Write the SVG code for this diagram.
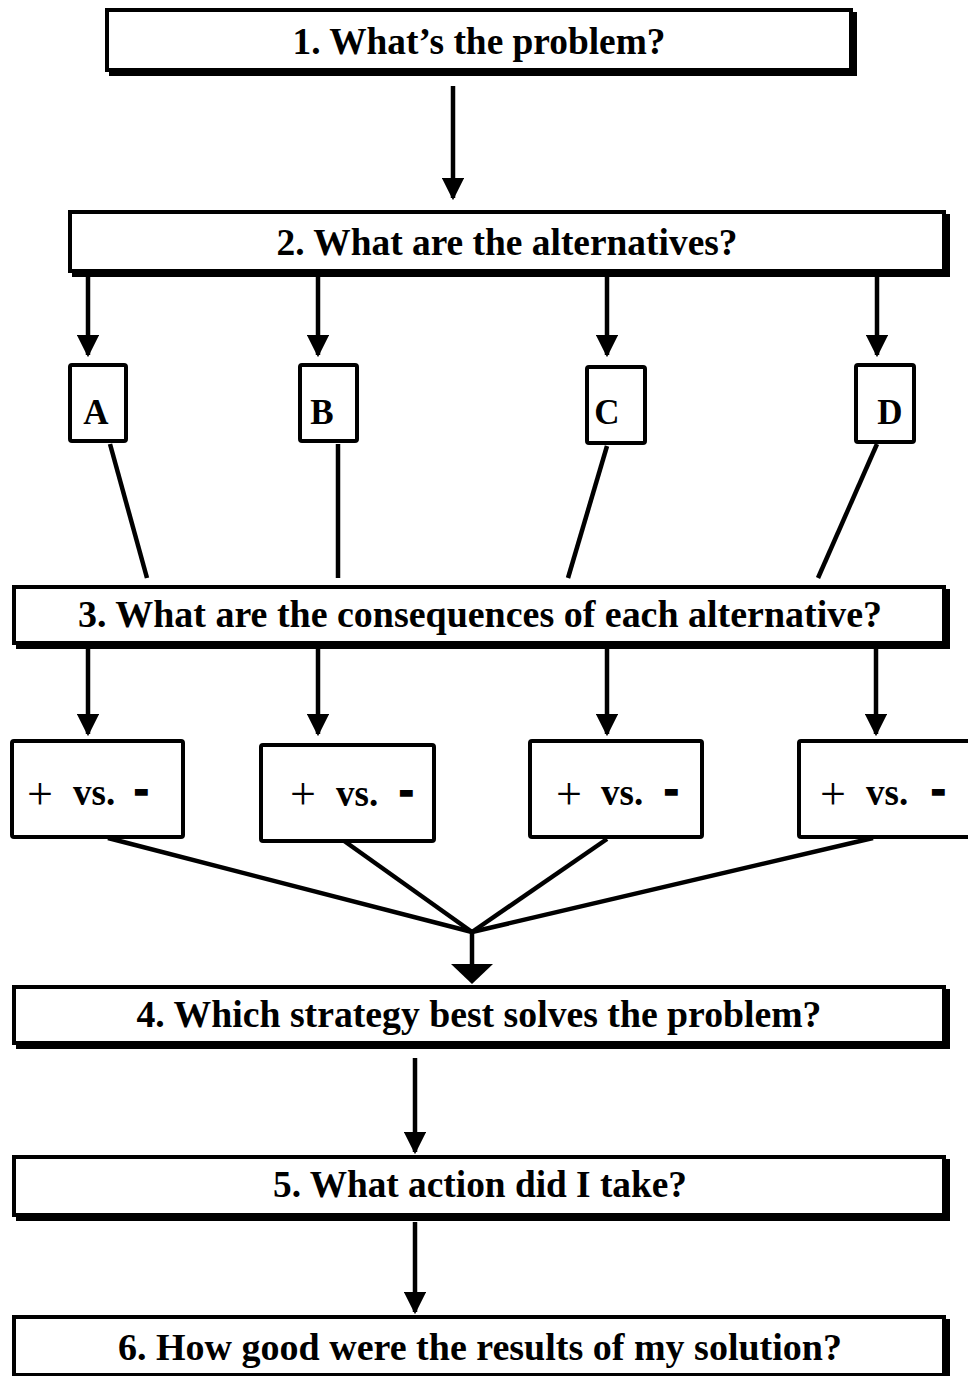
<svg xmlns="http://www.w3.org/2000/svg" width="968" height="1376" viewBox="0 0 968 1376">
<defs>
<style>
.sh{fill:#000}
.bx{fill:#fff;stroke:#000;stroke-width:4}
.sb{fill:#fff;stroke:#000;stroke-width:4}
.t{font-family:"Liberation Serif","Times New Roman",serif;font-weight:bold;font-size:38px;fill:#000;text-anchor:middle}
.l{font-family:"Liberation Serif","Times New Roman",serif;font-weight:bold;font-size:35px;fill:#000;text-anchor:middle}
.p{font-family:"Liberation Serif","Times New Roman",serif;font-size:46px;fill:#000}
.v{font-family:"Liberation Serif","Times New Roman",serif;font-weight:bold;font-size:37px;fill:#000}
.m{font-family:"Liberation Sans",Arial,sans-serif;font-weight:bold;font-size:44px;fill:#000;stroke:#000;stroke-width:1.6}
.c{stroke:#000;stroke-width:4.5;fill:none}
</style>
<marker id="ah" markerWidth="5" markerHeight="5" refX="4.5" refY="2.5" orient="auto" markerUnits="strokeWidth" viewBox="0 0 5 5">
<path d="M0,0 L5,2.5 L0,5 Z" fill="#000"/>
</marker>
</defs>
<rect width="968" height="1376" fill="#fff"/>
<g id="connectors">
<line class="c" x1="453" y1="86" x2="453" y2="198" marker-end="url(#ah)"/>
<line class="c" x1="88" y1="277" x2="88" y2="355" marker-end="url(#ah)"/>
<line class="c" x1="318" y1="277" x2="318" y2="355" marker-end="url(#ah)"/>
<line class="c" x1="607" y1="277" x2="607" y2="355" marker-end="url(#ah)"/>
<line class="c" x1="877" y1="277" x2="877" y2="355" marker-end="url(#ah)"/>
<line class="c" x1="110" y1="444" x2="147" y2="578"/>
<line class="c" x1="338" y1="444" x2="338" y2="578"/>
<line class="c" x1="607" y1="446" x2="568" y2="578"/>
<line class="c" x1="877" y1="444" x2="818" y2="578"/>
<line class="c" x1="88" y1="649" x2="88" y2="734" marker-end="url(#ah)"/>
<line class="c" x1="318" y1="649" x2="318" y2="734" marker-end="url(#ah)"/>
<line class="c" x1="607" y1="649" x2="607" y2="734" marker-end="url(#ah)"/>
<line class="c" x1="876" y1="649" x2="876" y2="734" marker-end="url(#ah)"/>
<line class="c" x1="108" y1="838" x2="472" y2="932"/>
<line class="c" x1="340" y1="838" x2="472" y2="932"/>
<line class="c" x1="607" y1="839" x2="472" y2="932"/>
<line class="c" x1="873" y1="838" x2="472" y2="932"/>
<line class="c" x1="472" y1="930" x2="472" y2="966"/>
<path d="M451,964 L493,964 L472,984 Z" fill="#000"/>
<line class="c" x1="415" y1="1058" x2="415" y2="1152" marker-end="url(#ah)"/>
<line class="c" x1="415" y1="1222" x2="415" y2="1312" marker-end="url(#ah)"/>
</g>
<g id="n1">
<rect class="sh" x="109" y="12" width="748" height="64"/>
<rect class="bx" x="107" y="10" width="744" height="60"/>
<text class="t" x="479" y="54" textLength="373" lengthAdjust="spacingAndGlyphs">1. What’s the problem?</text>
</g>
<g id="n2">
<rect class="sh" x="72" y="214" width="878" height="63"/>
<rect class="bx" x="70" y="212" width="874" height="59"/>
<text class="t" x="507" y="255" textLength="461" lengthAdjust="spacingAndGlyphs">2. What are the alternatives?</text>
</g>
<g id="nA">
<rect class="sb" x="70" y="365" width="56" height="76" rx="2"/>
<text class="l" x="96" y="424">A</text>
</g>
<g id="nB">
<rect class="sb" x="300" y="365" width="57" height="76" rx="2"/>
<text class="l" x="322" y="424">B</text>
</g>
<g id="nC">
<rect class="sb" x="587" y="367" width="58" height="76" rx="2"/>
<text class="l" x="607" y="424">C</text>
</g>
<g id="nD">
<rect class="sb" x="856" y="365" width="58" height="77" rx="2"/>
<text class="l" x="890" y="424">D</text>
</g>
<g id="n3">
<rect class="sh" x="16" y="589" width="934" height="60"/>
<rect class="bx" x="14" y="587" width="930" height="56"/>
<text class="t" x="480" y="627" textLength="804" lengthAdjust="spacingAndGlyphs">3.  What are the consequences of each alternative?</text>
</g>
<g id="p1">
<rect class="sb" x="12" y="741" width="171" height="96" rx="2"/>
<text class="p" x="27" y="809">+</text>
<text class="v" x="73" y="805">vs.</text>
<text class="m" x="134" y="804">-</text>
</g>
<g id="p2">
<rect class="sb" x="261" y="745" width="173" height="96" rx="2"/>
<text class="p" x="290" y="809">+</text>
<text class="v" x="336" y="806">vs.</text>
<text class="m" x="399" y="805">-</text>
</g>
<g id="p3">
<rect class="sb" x="530" y="741" width="172" height="96" rx="2"/>
<text class="p" x="556" y="809">+</text>
<text class="v" x="601" y="805">vs.</text>
<text class="m" x="664" y="804">-</text>
</g>
<g id="p4">
<rect class="sb" x="799" y="741" width="175" height="96" rx="2"/>
<text class="p" x="820" y="809">+</text>
<text class="v" x="866" y="805">vs.</text>
<text class="m" x="931" y="804">-</text>
</g>
<g id="n4">
<rect class="sh" x="16" y="989" width="934" height="60"/>
<rect class="bx" x="14" y="987" width="930" height="56"/>
<text class="t" x="479" y="1027" textLength="685" lengthAdjust="spacingAndGlyphs">4. Which strategy best solves the problem?</text>
</g>
<g id="n5">
<rect class="sh" x="16" y="1159" width="934" height="62"/>
<rect class="bx" x="14" y="1157" width="930" height="58"/>
<text class="t" x="480" y="1197" textLength="414" lengthAdjust="spacingAndGlyphs">5. What action did I take?</text>
</g>
<g id="n6">
<rect class="sh" x="16" y="1319" width="934" height="62"/>
<rect class="bx" x="14" y="1317" width="930" height="58"/>
<text class="t" x="480" y="1360" textLength="724" lengthAdjust="spacingAndGlyphs">6.  How good were the results of my solution?</text>
</g>
</svg>
